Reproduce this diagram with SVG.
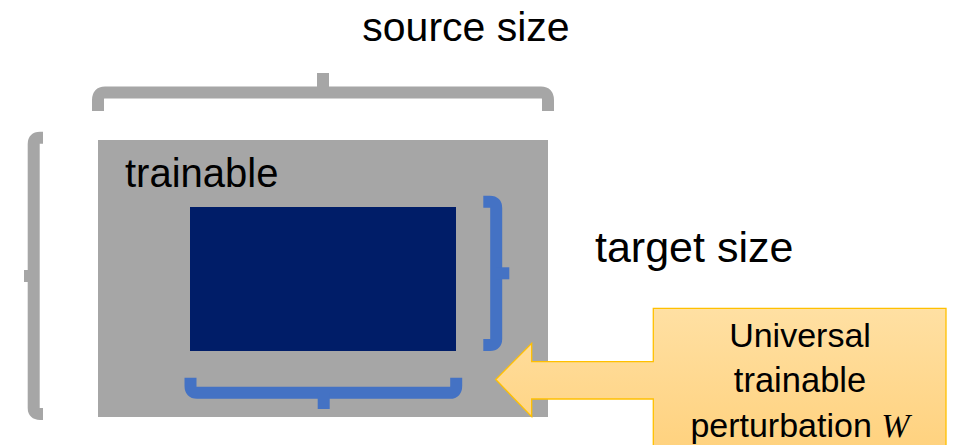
<svg xmlns="http://www.w3.org/2000/svg" width="956" height="445" viewBox="0 0 956 445">
<defs>
<linearGradient id="gold" x1="0" y1="0" x2="0" y2="1">
<stop offset="0" stop-color="#FFE0A3"/>
<stop offset="1" stop-color="#FFD27F"/>
</linearGradient>
<style>
.t{font-family:"Liberation Sans",Arial,sans-serif;fill:#000}
.gb{fill:none;stroke:#A6A6A6;stroke-width:12}
.bb{fill:none;stroke:#4472C4;stroke-width:12}
</style>
</defs>
<rect width="956" height="445" fill="#fff"/>
<g id="source-size-label"><text class="t" x="466" y="41" font-size="41" text-anchor="middle">source size</text></g>
<g id="source-brace">
<path class="gb" d="M98,111 V100 Q98,92.5 105,92.5 H541 Q548,92.5 548,100 V111"/>
<path class="gb" d="M323,93 V73" stroke-width="12.6"/>
</g>
<g id="height-brace">
<path class="gb" d="M43,137.7 H40 Q33.7,137.7 33.7,144 V408 Q33.7,414 40,414 H43" stroke-width="11.5"/>
<path class="gb" d="M34,276 H24" stroke-width="11.7"/>
</g>
<g id="trainable">
<rect x="98" y="140" width="450" height="277" fill="#A6A6A6"/>
<text class="t" x="125" y="187" font-size="40">trainable</text>
</g>
<g id="target">
<rect x="190" y="207" width="266" height="144" fill="#001D68"/>
</g>
<g id="target-brace-right">
<path class="bb" d="M483.3,201.7 H490 Q496.2,201.7 496.2,208 V339 Q496.2,345 490,345 H483.3" stroke-width="11.5"/>
<path class="bb" d="M496,273.3 H509.3"/>
</g>
<g id="target-brace-bottom">
<path class="bb" d="M190.5,377.7 V386 Q190.5,392.8 197,392.8 H450 Q456.2,392.8 456.2,386 V377.7" stroke-width="12.3"/>
<path class="bb" d="M323.7,393 V409" stroke-width="12.7"/>
</g>
<g id="target-size-label"><text class="t" x="595" y="262" font-size="43">target size</text></g>
<g id="perturbation-callout">
<path d="M653.3,308.3 H946 V447 H653.3 V399 H531.7 V416.7 L495.7,379.5 L531.7,343.3 V361.7 H653.3 Z" fill="url(#gold)" stroke="#FFC000" stroke-width="1.3"/>
<text class="t" x="800" y="347" font-size="34" text-anchor="middle">Universal</text>
<text class="t" x="800" y="392" font-size="34.5" text-anchor="middle">trainable</text>
<text class="t" x="800" y="437" font-size="34" text-anchor="middle">perturbation <tspan font-family="'Liberation Serif',serif" font-style="italic">W</tspan></text>
</g>
</svg>
